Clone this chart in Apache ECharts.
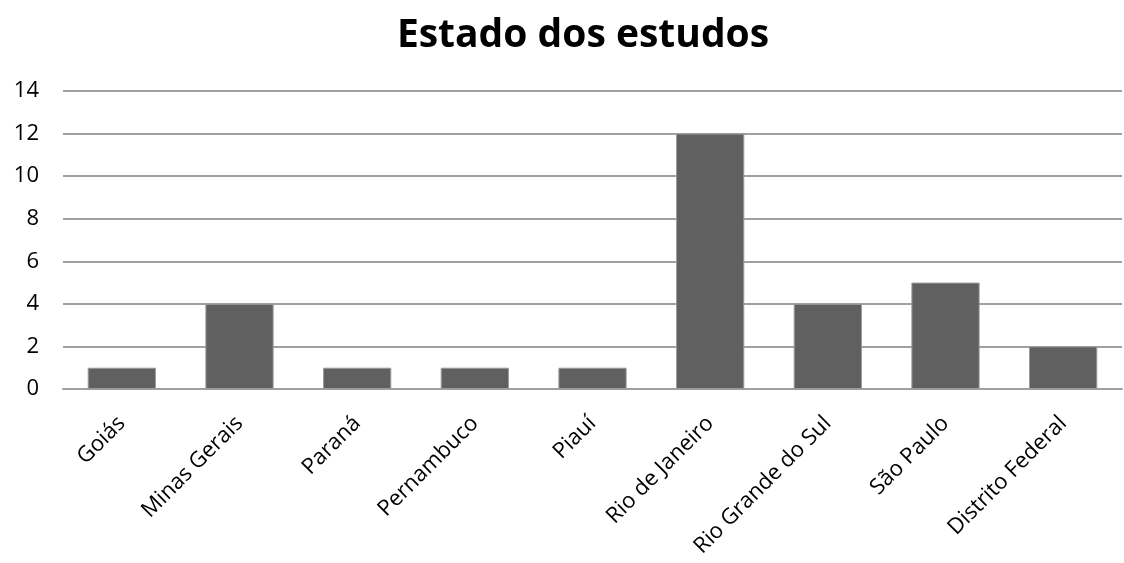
<!DOCTYPE html>
<html><head><meta charset="utf-8">
<script src="https://cdn.jsdelivr.net/npm/echarts@6/dist/echarts.min.js"></script>
<style>html,body{margin:0;padding:0;background:#fff}#c{width:1124px;height:563px}</style>
</head><body><div id="c"></div>
<script>
const categories = ['Goiás','Minas Gerais','Paraná','Pernambuco','Piauí','Rio de Janeiro','Rio Grande do Sul','São Paulo','Distrito Federal'];
const values = [1,4,1,1,1,12,4,5,2];
const yTicks = {min:0, max:14, interval:2};
const chart = echarts.init(document.getElementById('c'));
chart.setOption({
  animation:false,
  title:{text:'Estado dos estudos', left:578, top:11, textAlign:'center',
    textStyle:{fontFamily:'Open Sans', fontWeight:'bold', fontSize:39, color:'#000'}},
  grid:{left:63, right:2, top:91, bottom:174, containLabel:false},
  xAxis:{type:'category', data:categories,
    axisLine:{show:true, lineStyle:{color:'#a0a0a0', width:2}},
    axisTick:{show:false},
    axisLabel:{rotate:45, interval:0, margin:31, fontFamily:'Open Sans', fontSize:22, color:'#000'}},
  yAxis:{type:'value', min:yTicks.min, max:yTicks.max, interval:yTicks.interval,
    axisLine:{show:false}, axisTick:{show:false},
    axisLabel:{margin:24, fontFamily:'Open Sans', fontSize:22, color:'#000'},
    splitLine:{lineStyle:{color:'#a0a0a0', width:2}}},
  series:[{type:'bar', data:values, barWidth:'58%',
    itemStyle:{color:'#606060', borderColor:'#9a9a9a', borderWidth:1}}]
});
</script></body></html>
